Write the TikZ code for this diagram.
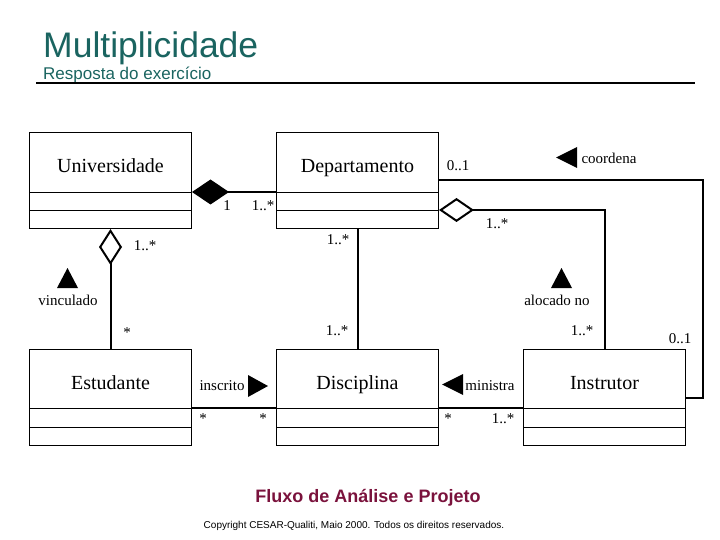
\documentclass[tikz,border=0pt]{standalone}
\usepackage{fontspec}
\usepackage{tikz}
\usetikzlibrary{arrows.meta,calc}
\setmainfont{Liberation Serif}
\newfontfamily\arialfont{Liberation Sans}
\definecolor{titleteal}{RGB}{26,100,96}
\definecolor{footmaroon}{RGB}{122,18,60}

\begin{document}
\begin{tikzpicture}[x=1pt,y=-1pt,
    cls/.style={draw, line width=1pt, minimum width=162pt, minimum height=96pt, anchor=north west, inner sep=0pt},
    clsname/.style={font=\fontsize{20}{22}\selectfont, inner sep=0pt, anchor=base},
    mult/.style={font=\fontsize{15}{16}\selectfont, inner sep=0pt},
    assoc/.style={line width=2pt}]
    \useasboundingbox (0,0) rectangle (720,540);

    % Titulo
    \node[anchor=base west, inner sep=0pt, text=titleteal, font=\arialfont\fontsize{35.5}{38}\selectfont] (titulo) at (43,58) {Multiplicidade};
    \node[anchor=base west, inner sep=0pt, text=titleteal, font=\arialfont\fontsize{17}{18}\selectfont] (subtitulo) at (43,80) {Resposta do exercício};
    \draw[line width=2pt] (36,83) -- (695,83);

    % Universidade
    \node[cls] (univ) at (29,132) {};
    \node[clsname] (univ-t) at ($(univ.north)+(0,41)$) {Universidade};
    \draw ($(univ.north west)+(0,60)$) coordinate (univ-a-w) -- ($(univ.north east)+(0,60)$) coordinate (univ-a-e);
    \draw ($(univ.north west)+(0,78)$) -- ($(univ.north east)+(0,78)$);

    % Departamento
    \node[cls] (dept) at (276,132) {};
    \node[clsname] (dept-t) at ($(dept.north)+(0,41)$) {Departamento};
    \draw ($(dept.north west)+(0,60)$) coordinate (dept-a-w) -- ($(dept.north east)+(0,60)$);
    \draw ($(dept.north west)+(0,78)$) -- ($(dept.north east)+(0,78)$) coordinate (dept-b-e);

    % Estudante
    \node[cls] (estud) at (29,349) {};
    \node[clsname] (estud-t) at ($(estud.north)+(0,40)$) {Estudante};
    \draw ($(estud.north west)+(0,59)$) -- ($(estud.north east)+(0,59)$) coordinate (estud-a-e);
    \draw ($(estud.north west)+(0,78)$) -- ($(estud.north east)+(0,78)$);

    % Disciplina
    \node[cls] (disc) at (276,349) {};
    \node[clsname] (disc-t) at ($(disc.north)+(0,40)$) {Disciplina};
    \draw ($(disc.north west)+(0,59)$) coordinate (disc-a-w) -- ($(disc.north east)+(0,59)$) coordinate (disc-a-e);
    \draw ($(disc.north west)+(0,78)$) -- ($(disc.north east)+(0,78)$);

    % Instrutor
    \node[cls] (instr) at (523,349) {};
    \node[clsname] (instr-t) at ($(instr.north)+(0,40)$) {Instrutor};
    \draw ($(instr.north west)+(0,59)$) coordinate (instr-a-w) -- ($(instr.north east)+(0,59)$);
    \draw ($(instr.north west)+(0,78)$) -- ($(instr.north east)+(0,78)$);

    % composicao e agregacoes
    \draw[assoc, -{Diamond[length=37pt,width=25pt]}] (dept-a-w) -- (univ-a-e);
    \draw[assoc, {Diamond[open,length=35pt,width=24pt]}-] (dept-b-e) -| (instr.north);
    \draw[assoc, {Diamond[open,length=36pt,width=23pt]}-] (univ.south) -- (estud.north);

    % associacoes
    \draw[assoc] (dept.east) -- ++(264,0) |- (instr.east);
    \draw[assoc] (dept.south) -- (disc.north);
    \draw[assoc] (estud-a-e) -- (disc-a-w);
    \draw[assoc] (disc-a-e) -- (instr-a-w);

    % multiplicidades
    \node[mult] (m1) at (227,206) {1};
    \node[mult] (m2) at (263,206) {1..*};
    \node[mult] (m3) at (145,246) {1..*};
    \node[mult] (m4) at (458,166) {0..1};
    \node[mult] (m5) at (497,224) {1..*};
    \node[mult] (m6) at (338,240) {1..*};
    \node[mult] (m7) at (127,333) {*};
    \node[mult] (m8) at (337,331) {1..*};
    \node[mult] (m9) at (203,419) {*};
    \node[mult] (m10) at (263,419) {*};
    \node[mult] (m11) at (448,419) {*};
    \node[mult] (m12) at (503,419) {1..*};
    \node[mult] (m13) at (582,331) {1..*};
    \node[mult] (m14) at (680,339) {0..1};

    % nomes das associacoes
    \node[mult] (coordena) at (609,158) {coordena};
    \fill (556,157.5) -- (577,147) -- (577,168) -- cycle;
    \node[mult] (vinculado) at (68,300) {vinculado};
    \fill (67.5,268) -- (57,288) -- (78,288) -- cycle;
    \node[mult] (alocado) at (557,300) {alocado no};
    \fill (561.5,268) -- (551,288) -- (572,288) -- cycle;
    \node[mult] (inscrito) at (222,386) {inscrito};
    \fill (268,386) -- (248,375) -- (248,397) -- cycle;
    \node[mult] (ministra) at (490,386) {ministra};
    \fill (442,384.5) -- (463,374) -- (463,395) -- cycle;

    % Rodape
    \node[anchor=base, inner sep=0pt, text=footmaroon, font=\arialfont\bfseries\fontsize{18}{20}\selectfont] (fluxo) at (368,502) {Fluxo de Análise e Projeto};
    \node[anchor=base, inner sep=0pt, font=\arialfont\fontsize{10}{12}\selectfont] (copyright) at (354,528) {Copyright CESAR-Qualiti, Maio 2000. Todos os direitos reservados.};
\end{tikzpicture}
\end{document}
